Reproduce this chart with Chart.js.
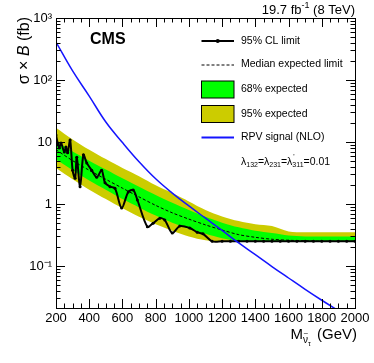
<!DOCTYPE html>
<html><head><meta charset="utf-8">
<script src="https://cdn.jsdelivr.net/npm/chart.js@4.4.1/dist/chart.umd.min.js"></script>
<style>html,body{margin:0;padding:0;background:#fff}#wrap{width:374px;height:363px;position:relative}</style>
</head><body><div id="wrap"><canvas id="c" width="374" height="363"></canvas></div>
<script>
// ---- data ----
const obsMass  = [200,210,220,230,250,260,270,285,300,315,325,345,365,385,415,445,475,495,525,555,595,635,665,690,750,785,825,855,900,945,1005,1050,1085,1140,1200,1250,1300,1350,1400,1450,1500,1550,1600,1650,1700,1750,1800,1850,1900,1950,2000];
const obsLimit = [13.0,9.6,8.0,9.6,6.9,8.3,6.7,10.8,3.5,2.6,5.7,1.9,6.2,4.6,3.5,2.7,3.5,2.2,1.9,1.8,0.86,1.56,1.68,1.16,0.43,0.49,0.59,0.55,0.34,0.44,0.41,0.35,0.33,0.25,0.25,0.25,0.25,0.25,0.25,0.25,0.25,0.25,0.25,0.25,0.25,0.25,0.25,0.25,0.25,0.25,0.25];

const bandMass  = [200,300,400,500,600,700,800,900,1000,1100,1200,1300,1400,1500,1600,1700,1800,1900,2000];
const expMedian = [7.5,5.0,3.5,2.5,1.8,1.3,0.95,0.72,0.57,0.46,0.38,0.32,0.29,0.27,0.26,0.255,0.25,0.25,0.25];
const exp68Hi   = [10.5,7.0,5.0,3.6,2.6,1.9,1.4,1.05,0.8,0.62,0.5,0.42,0.37,0.34,0.31,0.30,0.30,0.30,0.30];
const exp68Lo   = [5.2,3.5,2.4,1.7,1.2,0.88,0.65,0.5,0.40,0.33,0.28,0.25,0.245,0.245,0.245,0.245,0.245,0.245,0.245];
const exp95Hi   = [17,11,7.5,5.3,3.8,2.8,2.0,1.5,1.1,0.8,0.63,0.53,0.47,0.44,0.36,0.35,0.35,0.35,0.35];
const exp95Lo   = [3.8,2.5,1.7,1.2,0.85,0.62,0.47,0.37,0.30,0.26,0.245,0.245,0.245,0.245,0.245,0.245,0.245,0.245,0.245];

const sigMass  = [200,300,400,500,600,700,800,900,1000,1100,1200,1300,1400,1500,1600,1700,1800,1900,2000];
const sigXsec  = [410,140,55,21,9.8,4.8,2.55,1.5,0.93,0.59,0.375,0.235,0.152,0.098,0.064,0.042,0.028,0.019,0.013];

const xTickValues = [200,400,600,800,1000,1200,1400,1600,1800,2000];
const xTickLabels = ['200','400','600','800','1000','1200','1400','1600','1800','2000'];
const yTickValues = [0.1,1,10,100,1000];
const yTickLabels = ['10\u207B\u00B9','1','10','10\u00B2','10\u00B3'];

const legendLabels = ['95% CL limit','Median expected limit','68% expected','95% expected','RPV signal (NLO)'];

// ---- helpers ----
const pts = (xs, ys) => xs.map((x, i) => ({x: x, y: ys[i]}));
const FONT = '"Liberation Sans", Arial, Helvetica, sans-serif';
const GREEN = 'rgb(0,255,0)';
const YELLOW = 'rgb(204,204,0)';
const BLUE = 'rgb(20,20,255)';

const framePlugin = {
  id: 'frame',
  afterDatasetsDraw(chart) {
    const {ctx, chartArea: a, scales} = chart;
    const xs = scales.x, ys = scales.y;
    ctx.save();
    ctx.strokeStyle = '#000';
    ctx.lineWidth = 1;
    ctx.beginPath();
    for (let v = 200; v <= 2000; v += 50) {
      const px = Math.round(xs.getPixelForValue(v)) + 0.5;
      const len = (v % 200 === 0) ? 9 : 4.5;
      ctx.moveTo(px, a.bottom); ctx.lineTo(px, a.bottom - len);
      ctx.moveTo(px, a.top); ctx.lineTo(px, a.top + len);
    }
    for (let e = -2; e <= 3; e++) {
      for (let m = 1; m <= 9; m++) {
        const v = m * Math.pow(10, e);
        if (v < ys.min || v > ys.max) continue;
        const py = Math.round(ys.getPixelForValue(v)) + 0.5;
        const len = (m === 1) ? 9 : 4.5;
        ctx.moveTo(a.left, py); ctx.lineTo(a.left + len, py);
        ctx.moveTo(a.right, py); ctx.lineTo(a.right - len, py);
      }
    }
    ctx.stroke();
    ctx.strokeRect(Math.round(a.left) + 0.5, Math.round(a.top) + 0.5, Math.round(a.right - a.left), Math.round(a.bottom - a.top));
    ctx.restore();
  },
  afterDraw(chart) {
    const ctx = chart.ctx;
    ctx.save();
    ctx.fillStyle = '#000';
    ctx.textBaseline = 'alphabetic';
    const f13 = '13px ' + FONT, f9 = '9px ' + FONT;
    ctx.font = f13;
    const t1 = '19.7 fb', t3 = ' (8 TeV)';
    ctx.font = f9; const w2 = ctx.measureText('-1').width;
    ctx.font = f13;
    const w1 = ctx.measureText(t1).width, w3 = ctx.measureText(t3).width;
    let x0 = 355 - (w1 + w2 + w3);
    ctx.textAlign = 'left';
    ctx.fillText(t1, x0, 14);
    ctx.font = f9; ctx.fillText('-1', x0 + w1, 8);
    ctx.font = f13; ctx.fillText(t3, x0 + w1 + w2, 14);
    ctx.font = 'bold 16px ' + FONT;
    ctx.fillText('CMS', 90, 44);

    const lx0 = 201.5, lx1 = 234, tx = 241;
    const rows = [41, 64.5, 89.5, 114, 137.5];
    ctx.lineWidth = 2; ctx.strokeStyle = '#000';
    ctx.beginPath(); ctx.moveTo(lx0, rows[0]); ctx.lineTo(lx1, rows[0]); ctx.stroke();
    ctx.beginPath(); ctx.arc((lx0 + lx1) / 2, rows[0], 2, 0, Math.PI * 2); ctx.fill();
    ctx.lineWidth = 1; ctx.setLineDash([3, 2]);
    ctx.beginPath(); ctx.moveTo(lx0, rows[1] + 0.5); ctx.lineTo(lx1, rows[1] + 0.5); ctx.stroke();
    ctx.setLineDash([]);
    ctx.fillStyle = GREEN; ctx.fillRect(lx0, 81, lx1 - lx0, 17);
    ctx.strokeRect(lx0, 81, lx1 - lx0, 17);
    ctx.fillStyle = YELLOW; ctx.fillRect(lx0, 105.5, lx1 - lx0, 17);
    ctx.strokeRect(lx0, 105.5, lx1 - lx0, 17);
    ctx.strokeStyle = BLUE; ctx.lineWidth = 2;
    ctx.beginPath(); ctx.moveTo(lx0, rows[4]); ctx.lineTo(lx1, rows[4]); ctx.stroke();
    ctx.fillStyle = '#000';
    ctx.font = '10.5px ' + FONT;
    ctx.textBaseline = 'middle';
    legendLabels.forEach((s, i) => ctx.fillText(s, tx, rows[i]));
    ctx.textBaseline = 'alphabetic';
    let cx = tx; const by = 165;
    const big = '10.5px ' + FONT, sm = '7px ' + FONT;
    const put = (s, f, dy) => { ctx.font = f; ctx.fillText(s, cx, by + dy); cx += ctx.measureText(s).width; };
    put('\u03BB', big, 0); put('132', sm, 2); put('=\u03BB', big, 0); put('231', sm, 2); put('=\u03BB', big, 0);
    ctx.font = sm; ctx.fillText("'", cx + 1, by - 6);
    put('311', sm, 2); put('=0.01', big, 0);

    const f15 = '15px ' + FONT;
    ctx.font = f15; const wM = ctx.measureText('M').width, wG = ctx.measureText(' (GeV)').width;
    ctx.font = '10px ' + FONT; const wnu = ctx.measureText('\u03BD').width;
    ctx.font = '7px ' + FONT; const wtau = ctx.measureText('\u03C4').width;
    let xx = 357 - (wM + wnu + wtau + 2 + wG);
    const xb = 339;
    ctx.font = f15; ctx.fillText('M', xx, xb); xx += wM;
    ctx.font = '10px ' + FONT; ctx.fillText('\u03BD', xx, xb + 4);
    ctx.font = '8px ' + FONT; ctx.fillText('~', xx + 0.5, xb - 3);
    xx += wnu;
    ctx.font = '7px ' + FONT; ctx.fillText('\u03C4', xx, xb + 7); xx += wtau + 2;
    ctx.font = f15; ctx.fillText(' (GeV)', xx, xb);

    const f16 = '16px ' + FONT;
    ctx.save();
    ctx.translate(29, 17);
    ctx.rotate(-Math.PI / 2);
    ctx.textAlign = 'left';
    const ps = [['\u03C3 \u00D7 ', f16], ['B', 'italic ' + f16], [' (fb)', f16]];
    let tw = 0; ps.forEach(p => { ctx.font = p[1]; tw += ctx.measureText(p[0]).width; });
    let yy = -tw;
    ps.forEach(p => { ctx.font = p[1]; ctx.fillText(p[0], yy, 0); yy += ctx.measureText(p[0]).width; });
    ctx.restore();
    ctx.restore();
  }
};

new Chart(document.getElementById('c'), {
  type: 'line',
  data: {
    datasets: [
      {label: '95lo', data: pts(bandMass, exp95Lo), borderWidth: 0, pointRadius: 0, fill: false, order: 10, tension: 0.3},
      {label: '95hi', data: pts(bandMass, exp95Hi), borderWidth: 0, pointRadius: 0, fill: 0, backgroundColor: YELLOW, order: 9, tension: 0.3},
      {label: '68lo', data: pts(bandMass, exp68Lo), borderWidth: 0, pointRadius: 0, fill: false, order: 8, tension: 0.3},
      {label: '68hi', data: pts(bandMass, exp68Hi), borderWidth: 0, pointRadius: 0, fill: 2, backgroundColor: GREEN, order: 7, tension: 0.3},
      {label: 'median', data: pts(bandMass, expMedian), borderColor: '#000', borderWidth: 1, borderDash: [3, 2], pointRadius: 0, fill: false, order: 6, tension: 0.3},
      {label: 'obs', data: pts(obsMass, obsLimit), borderColor: '#000', backgroundColor: '#000', borderWidth: 2, pointRadius: 1.5, pointBorderWidth: 0, fill: false, order: 5, tension: 0.3},
      {label: 'sig', data: pts(sigMass, sigXsec), borderColor: BLUE, borderWidth: 1.5, pointRadius: 0, fill: false, order: 1, tension: 0.4}
    ]
  },
  options: {
    responsive: false, animation: false, devicePixelRatio: 1,
    layout: {padding: {left: 0, right: 19, top: 18, bottom: 0}},
    plugins: {legend: {display: false}, tooltip: {enabled: false}},
    scales: {
      x: {
        type: 'linear', min: 200, max: 2000,
        grid: {display: false, drawTicks: false}, border: {display: false},
        afterBuildTicks: s => { s.ticks = xTickValues.map(v => ({value: v})); },
        afterFit: s => { s.height = 55; },
        ticks: {color: '#000', font: {family: FONT, size: 13}, padding: 3, maxRotation: 0, autoSkip: false,
          callback: (v) => { const i = xTickValues.indexOf(v); return i >= 0 ? xTickLabels[i] : ''; }}
      },
      y: {
        type: 'logarithmic', min: 0.021, max: 1000,
        grid: {display: false, drawTicks: false}, border: {display: false},
        afterBuildTicks: s => { s.ticks = yTickValues.map(v => ({value: v})); },
        afterFit: s => { s.width = 56; },
        ticks: {color: '#000', font: {family: FONT, size: 13}, padding: 4, autoSkip: false,
          callback: (v) => { const i = yTickValues.indexOf(v); return i >= 0 ? yTickLabels[i] : ''; }}
      }
    }
  },
  plugins: [framePlugin]
});
</script></body></html>
